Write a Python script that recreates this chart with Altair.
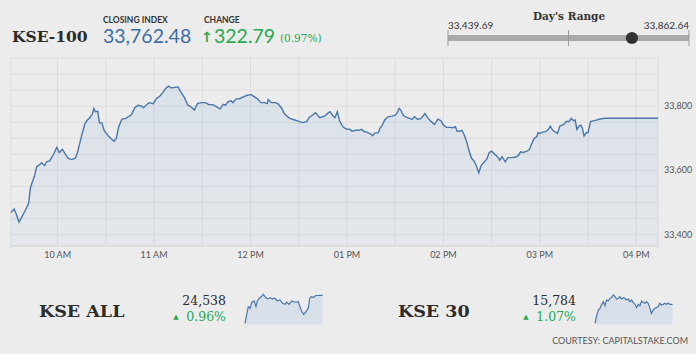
import altair as alt
import pandas as pd

# ---------------- data ----------------
index_name = "KSE-100"
closing_index = 33762.48
change_points = 322.79
change_pct = 0.97
day_low = 33439.69
day_high = 33862.64

main_times = [
    "09:31:00", "09:33:00", "09:34:30", "09:36:00", "09:38:00", "09:40:00", "09:42:00", "09:43:00", "09:44:00", "09:45:30",
    "09:47:00", "09:49:00", "09:50:00", "09:52:00", "09:53:00", "09:55:00", "09:57:00", "09:59:30", "10:01:00", "10:03:00",
    "10:04:30", "10:06:30", "10:08:30", "10:11:00", "10:12:30", "10:13:30", "10:15:00", "10:17:00", "10:18:30", "10:20:00",
    "10:21:30", "10:22:30", "10:23:30", "10:25:00", "10:26:00", "10:27:30", "10:29:00", "10:31:30", "10:33:30", "10:35:00",
    "10:36:30", "10:38:00", "10:40:00", "10:42:30", "10:46:00", "10:48:00", "10:50:00", "10:52:00", "10:53:30", "10:55:00",
    "10:57:00", "10:59:30", "11:01:30", "11:03:30", "11:05:30", "11:07:30", "11:09:00", "11:10:30", "11:12:30", "11:15:00",
    "11:16:30", "11:19:00", "11:21:00", "11:23:00", "11:25:00", "11:27:00", "11:29:30", "11:32:00", "11:34:00", "11:36:30",
    "11:39:00", "11:41:00", "11:43:00", "11:44:30", "11:46:00", "11:48:00", "11:49:00", "11:51:00", "11:53:30", "11:55:30",
    "11:58:00", "12:00:30", "12:02:30", "12:04:30", "12:06:30", "12:08:30", "12:10:30", "12:11:00", "12:13:00", "12:15:30",
    "12:17:00", "12:19:30", "12:21:00", "12:23:00", "12:24:30", "12:27:30", "12:30:30", "12:32:30", "12:35:00", "12:36:30",
    "12:38:30", "12:40:30", "12:43:00", "12:46:00", "12:48:30", "12:49:30", "12:51:00", "12:52:30", "12:54:00", "12:55:30",
    "12:57:30", "12:59:30", "13:02:00", "13:03:00", "13:05:30", "13:07:30", "13:09:00", "13:10:30", "13:13:00", "13:15:00",
    "13:16:00", "13:17:30", "13:19:30", "13:20:30", "13:22:00", "13:23:30", "13:25:30", "13:28:00", "13:30:00", "13:31:00",
    "13:32:30", "13:33:30", "13:35:00", "13:37:00", "13:39:00", "13:40:30", "13:42:00", "13:44:00", "13:46:00", "13:47:30",
    "13:48:30", "13:50:30", "13:52:30", "13:54:30", "13:56:30", "13:58:30", "14:00:00", "14:02:00", "14:04:00", "14:06:00",
    "14:07:30", "14:08:30", "14:10:00", "14:11:30", "14:13:00", "14:14:30", "14:15:30", "14:17:30", "14:19:00", "14:20:30",
    "14:22:00", "14:23:30", "14:25:30", "14:27:00", "14:28:30", "14:30:00", "14:31:30", "14:33:00", "14:34:30", "14:35:00",
    "14:36:30", "14:38:30", "14:40:00", "14:42:30", "14:44:30", "14:46:30", "14:48:00", "14:49:30", "14:52:00", "14:53:30",
    "14:55:00", "14:56:30", "14:58:00", "14:59:00", "15:00:00", "15:02:00", "15:03:30", "15:05:30", "15:06:30", "15:08:00",
    "15:09:30", "15:11:00", "15:12:30", "15:14:00", "15:15:30", "15:16:30", "15:18:00", "15:19:30", "15:21:00", "15:22:00",
    "15:23:00", "15:24:30", "15:25:30", "15:26:30", "15:27:30", "15:29:00", "15:30:00", "15:31:30", "15:34:30", "15:37:30",
    "15:40:30", "16:13:30",
]

main_values = [
    33469, 33480, 33461, 33439.69, 33458, 33477, 33498, 33544, 33560, 33581,
    33612, 33619, 33624, 33615, 33627, 33630, 33646, 33672, 33656, 33666,
    33653, 33638, 33634, 33638, 33658, 33679, 33710, 33746, 33757, 33764,
    33774, 33793, 33783, 33784, 33748, 33748, 33724, 33708, 33698, 33691,
    33700, 33736, 33760, 33762, 33774, 33795, 33803, 33801, 33796, 33803,
    33811, 33808, 33824, 33831, 33843, 33857, 33862.64, 33857, 33858, 33860,
    33845, 33826, 33803, 33798, 33788, 33808, 33811, 33811, 33805, 33805,
    33798, 33791, 33806, 33803, 33814, 33817, 33811, 33822, 33824, 33829,
    33834, 33836, 33829, 33822, 33811, 33811, 33808, 33821, 33811, 33811,
    33808, 33793, 33777, 33767, 33762, 33757, 33752, 33749, 33752, 33765,
    33772, 33780, 33764, 33769, 33780, 33783, 33772, 33764, 33783, 33753,
    33736, 33729, 33728, 33722, 33725, 33725, 33728, 33722, 33718, 33713,
    33708, 33717, 33717, 33731, 33741, 33757, 33767, 33769, 33772, 33777,
    33793, 33788, 33772, 33765, 33762, 33759, 33767, 33759, 33762, 33770,
    33777, 33762, 33752, 33743, 33760, 33755, 33741, 33734, 33734, 33733,
    33736, 33722, 33722, 33725, 33710, 33689, 33669, 33638, 33630, 33615,
    33593, 33615, 33627, 33635, 33656, 33660, 33653, 33646, 33638, 33632,
    33643, 33627, 33640, 33640, 33641, 33646, 33658, 33656, 33660, 33665,
    33684, 33700, 33705, 33718, 33715, 33720, 33720, 33729, 33738, 33725,
    33720, 33715, 33739, 33741, 33746, 33753, 33752, 33762, 33755, 33757,
    33728, 33739, 33741, 33731, 33707, 33718, 33718, 33752, 33756, 33760,
    33762.48, 33762.48,
]

y_domain = [33365, 33950]
y_grid_values = list(range(33400, 33951, 50))
y_label_values = [33400, 33600, 33800]
x_grid_times = ["10:00", "10:30", "11:00", "11:30", "12:00", "12:30", "13:00",
                "13:30", "14:00", "14:30", "15:00", "15:30", "16:00"]
x_label_times = ["10:00", "11:00", "12:00", "13:00", "14:00", "15:00", "16:00"]
x_labels = ["10 AM", "11 AM", "12 PM", "01 PM", "02 PM", "03 PM", "04 PM"]

spark_names = ["KSE ALL", "KSE 30"]
spark_close = [24538, 15784]
spark_pct = [0.96, 1.07]

kse_all_minutes = [0, 9, 17, 26, 35, 47, 57, 64, 74, 86, 95, 107, 117, 129, 143, 155, 167, 181,
                   195, 207, 216, 229, 242, 250, 264, 276, 285, 293, 305, 316, 328, 336, 345, 354, 367, 402]
kse_all_values = [24240, 24336, 24418, 24400, 24465, 24479, 24418, 24479, 24507, 24525, 24550, 24514,
                  24500, 24514, 24500, 24507, 24479, 24489, 24454, 24443, 24465, 24443, 24479, 24472,
                  24465, 24472, 24418, 24372, 24336, 24365, 24400, 24507, 24525, 24514, 24536, 24538]

kse30_minutes = [0, 9, 17, 26, 35, 43, 52, 60, 69, 78, 86, 95, 104, 112, 121, 129, 138, 147, 155, 164,
                 173, 181, 190, 198, 207, 216, 224, 233, 242, 250, 259, 267, 276, 285, 293, 302, 311,
                 319, 328, 336, 345, 354, 362, 371, 380, 388, 402]
kse30_values = [15640, 15703, 15741, 15754, 15784, 15804, 15774, 15817, 15809, 15830,
                15835, 15855, 15842, 15824, 15830, 15842, 15824, 15835, 15830, 15817,
                15824, 15804, 15817, 15799, 15784, 15759, 15784, 15774, 15809, 15799,
                15792, 15804, 15792, 15754, 15716, 15741, 15754, 15759, 15766, 15792,
                15779, 15784, 15792, 15784, 15792, 15784, 15784]

# ---------------- styling ----------------
BG = "#ececec"
GRID = "#dcdcdc"
LINE = "#4a77a8"
GREEN = "#27a94f"
BLUE = "#3b6ea6"
DARK = "#2b2b2b"
SERIF = "DejaVu Serif"
SANS = "Lato"

OX, OY = 11, 58          # plot origin inside the 696x354 canvas
W, H = 647, 188

DAY = "2019-01-02T"


def dt(t):
    h, m = int(t[:2]), int(t[3:5])
    s = int(t[6:8]) if len(t) > 5 else 0
    return alt.DateTime(year=2019, month=1, date=2, hours=h, minutes=m, seconds=s)


main_df = pd.DataFrame({"t": [DAY + t for t in main_times], "v": main_values})

x_scale = alt.Scale(domain=[dt(main_times[0]), dt(main_times[-1])], nice=False)
y_scale = alt.Scale(domain=y_domain, nice=False, zero=False)
X = lambda f: alt.X(f, scale=x_scale, axis=None)
Y = lambda f: alt.Y(f, scale=y_scale, axis=None)

gradient = alt.Gradient(
    gradient="linear",
    stops=[alt.GradientStop(color="rgba(130,170,220,0.17)", offset=0),
           alt.GradientStop(color="rgba(130,170,220,0.07)", offset=1)],
    x1=1, x2=1, y1=0, y2=1,
)

hgrid = alt.Chart(pd.DataFrame({"v": y_grid_values})).mark_rule(color=GRID, strokeWidth=1).encode(
    y=Y("v:Q"), x=alt.value(0), x2=alt.value(W))
vgrid = alt.Chart(pd.DataFrame({"t": [DAY + t + ":00" for t in x_grid_times]})).mark_rule(
    color=GRID, strokeWidth=1).encode(x=X("t:T"), y=alt.value(0), y2=alt.value(H))
borders = alt.Chart(pd.DataFrame({"t": [DAY + main_times[0], DAY + main_times[-1]]})).mark_rule(
    color=GRID, strokeWidth=1).encode(x=X("t:T"), y=alt.value(0), y2=alt.value(H + 4))
main_area = alt.Chart(main_df).mark_area(color=gradient).encode(
    x=X("t:T"), y=Y("v:Q"), y2=alt.datum(y_domain[0]))
main_line = alt.Chart(main_df).mark_line(color=LINE, strokeWidth=1.4).encode(
    x=X("t:T"), y=Y("v:Q"))
axis_line = alt.Chart(pd.DataFrame({"v": [y_domain[0]]})).mark_rule(color="#d0d0d0", strokeWidth=1).encode(
    y=Y("v:Q"), x=alt.value(0), x2=alt.value(W))
xlab = alt.Chart(pd.DataFrame({"t": [DAY + t + ":00" for t in x_label_times], "s": x_labels})).mark_text(
    font=SANS, fontSize=9, color="#555", align="center", baseline="middle").encode(
    x=X("t:T"), y=alt.value(H + 9), text="s:N")
ylab = alt.Chart(pd.DataFrame({"v": y_label_values, "s": [f"{v:,}" for v in y_label_values]})).mark_text(
    font=SANS, fontSize=9, color="#555", align="left", baseline="middle").encode(
    y=Y("v:Q"), x=alt.value(W + 6), text="s:N")
main = alt.layer(hgrid, vgrid, borders, main_area, main_line, axis_line, xlab, ylab)


def text(s, x, y, size, color, font, weight="normal", align="left"):
    return alt.Chart(pd.DataFrame({"s": [s]})).mark_text(
        align=align, baseline="alphabetic", fontSize=size, font=font,
        fontWeight=weight, color=color,
    ).encode(x=alt.value(x - OX), y=alt.value(y - OY), text="s:N")


# ---------- Day's range slider ----------
slider_scale = alt.Scale(domain=[day_low, day_high], range=[448 - OX, 689 - OX], nice=False, zero=False)
SX = lambda f: alt.X(f, scale=slider_scale, axis=None)
bar = alt.Chart(pd.DataFrame({"lo": [day_low], "hi": [day_high]})).mark_rule(
    color="#a9a9a9", strokeWidth=6).encode(x=SX("lo:Q"), x2="hi:Q", y=alt.value(38 - OY))
ticks = alt.Chart(pd.DataFrame({"v": [day_low, (day_low + day_high) / 2, day_high]})).mark_rule(
    color="#9a9a9a", strokeWidth=1).encode(x=SX("v:Q"), y=alt.value(30 - OY), y2=alt.value(46 - OY))
knob = alt.Chart(pd.DataFrame({"v": [closing_index]})).mark_circle(
    color="#333333", size=150, opacity=1).encode(x=SX("v:Q"), y=alt.value(38 - OY))
low_label = alt.Chart(pd.DataFrame({"v": [day_low], "s": [f"{day_low:,.2f}"]})).mark_text(
    fontSize=10, font=SANS, color="#333", baseline="alphabetic", align="left").encode(
    x=SX("v:Q"), y=alt.value(29 - OY), text="s:N")
high_label = alt.Chart(pd.DataFrame({"v": [day_high], "s": [f"{day_high:,.2f}"]})).mark_text(
    fontSize=10, font=SANS, color="#333", baseline="alphabetic", align="right").encode(
    x=SX("v:Q"), y=alt.value(29 - OY), text="s:N")
slider = alt.layer(bar, ticks, knob, low_label, high_label)


# ---------- sparklines ----------
def spark(minutes, values, x0, ydom):
    df = pd.DataFrame({"m": minutes, "v": values})
    xs = alt.Scale(domain=[0, 402], range=[x0 - OX, x0 + 77.5 - OX], nice=False, zero=False)
    ys = alt.Scale(domain=ydom, range=[324.5 - OY, 294 - OY], nice=False, zero=False)
    a = alt.Chart(df).mark_area(color="#d9dfe8").encode(
        x=alt.X("m:Q", scale=xs, axis=None),
        y=alt.Y("v:Q", scale=ys, axis=None), y2=alt.datum(ydom[0]))
    l = alt.Chart(df).mark_line(color=LINE, strokeWidth=1.2).encode(
        x=alt.X("m:Q", scale=xs, axis=None), y=alt.Y("v:Q", scale=ys, axis=None))
    return alt.layer(a, l)


spark_all = spark(kse_all_minutes, kse_all_values, 245, [24229, 24552])
spark_30 = spark(kse30_minutes, kse30_values, 595, [15632, 15862])

# ---------- texts ----------
texts = [
    text(index_name, 12, 42, 15.5, DARK, SERIF, "bold"),
    text("CLOSING INDEX", 103, 22.5, 8.5, "#333", SANS, "bold"),
    text(f"{closing_index:,.2f}", 103, 43, 19.5, BLUE, SANS),
    text("CHANGE", 204, 22.5, 8.5, "#333", SANS, "bold"),
    text("\u2191", 201, 42, 14, GREEN, "DejaVu Sans", "bold"),
    text(f"{change_points:,.2f}", 214, 43, 19.5, GREEN, SANS),
    text(f"({change_pct:.2f}%)", 280, 42, 10.5, GREEN, SERIF),
    text("Day's Range", 569, 19.5, 10.5, "#333", SERIF, "bold", "center"),
    text("COURTESY: CAPITALSTAKE.COM", 688, 344, 9, "#555", SANS, align="right"),
]
name_x = [39, 398]
num_right = [226, 576]
for i in range(2):
    texts.append(text(spark_names[i], name_x[i], 316.5, 17.5, DARK, SERIF, "bold"))
    texts.append(text(f"{spark_close[i]:,}", num_right[i], 305, 12.5, DARK, SERIF, align="right"))
    texts.append(text("\u25b2", num_right[i] - 50, 319, 7, GREEN, "DejaVu Sans", align="center"))
    texts.append(text(f"{spark_pct[i]:.2f}%", num_right[i], 320.5, 12.5, GREEN, SERIF, align="right"))

chart = alt.layer(main, slider, spark_all, spark_30, *texts).resolve_scale(
    x="independent", y="independent"
).properties(
    width=W, height=H, autosize="none",
    padding={"left": OX, "top": OY, "right": 696 - OX - W, "bottom": 354 - OY - H},
).configure(background=BG).configure_view(stroke=None)

chart.save("out.html", embed_options={"renderer": "svg", "actions": False})
